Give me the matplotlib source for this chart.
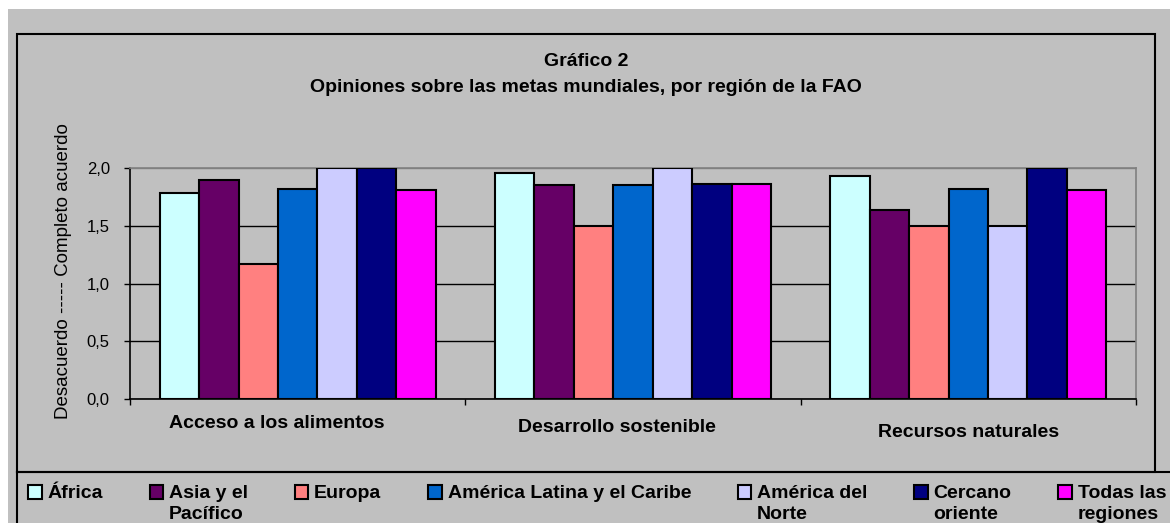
import matplotlib
matplotlib.use('Agg')
import matplotlib.pyplot as plt
import numpy as np
from matplotlib.patches import Rectangle
from matplotlib.lines import Line2D
from matplotlib.legend_handler import HandlerPatch
from matplotlib.ticker import FuncFormatter
import matplotlib.transforms as mtransforms

plt.rcParams['font.family'] = ['Liberation Sans', 'DejaVu Sans']

# datos
categorias = ['Acceso a los alimentos', 'Desarrollo sostenible', 'Recursos naturales']
regiones = ['África\n', 'Asia y el\nPacífico', 'Europa\n', 'América Latina y el Caribe\n',
            'América del\nNorte', 'Cercano\noriente', 'Todas las\nregiones']
africa = [1.78, 1.96, 1.93]
asia = [1.90, 1.85, 1.64]
europa = [1.17, 1.50, 1.50]
america_latina = [1.82, 1.85, 1.82]
america_norte = [2.00, 2.00, 1.50]
cercano_oriente = [2.00, 1.86, 2.00]
todas = [1.81, 1.86, 1.81]
colores = ['#CCFFFF', '#660066', '#FF8080', '#0066CC', '#CCCCFF', '#000080', '#FF00FF']

W, H = 1170, 523
fx = lambda x: x / W
fy = lambda y: 1 - y / H

fig = plt.figure(figsize=(W / 100, H / 100), dpi=100)
fig.patch.set_facecolor('white')
gris = '#C0C0C0'
fig.add_artist(Rectangle((fx(8), 0), 1 - fx(8), fy(9), transform=fig.transFigure,
                         facecolor=gris, edgecolor='none', zorder=-10))
# marco del grafico
fig.add_artist(Rectangle((fx(17), fy(472)), fx(1155) - fx(17), fy(34) - fy(472),
                         transform=fig.transFigure, fill=False, edgecolor='black', lw=1.5))
# marco de la leyenda
fig.add_artist(Line2D([fx(17), 1], [fy(472), fy(472)], transform=fig.transFigure, color='black', lw=1.5))
fig.add_artist(Line2D([fx(17), fx(17)], [fy(472), 0], transform=fig.transFigure, color='black', lw=1.5))

ax = fig.add_axes([fx(130), fy(399), fx(1136) - fx(130), fy(168) - fy(399)])
ax.set_facecolor('none')

series = [africa, asia, europa, america_latina, america_norte, cercano_oriente, todas]
x = np.arange(len(categorias))
w = 0.1175
barras = []
for i, vals in enumerate(series):
    b = ax.bar(x + (i - 3) * w, vals, w, color=colores[i], edgecolor='black', linewidth=1.5,
               label=regiones[i], zorder=3)
    barras.append(b)

ax.set_xlim(-0.5, 2.5)
ax.set_ylim(0, 2.0)
ax.set_yticks([0, 0.5, 1.0, 1.5, 2.0])
ax.yaxis.set_major_formatter(FuncFormatter(lambda v, p: f'{v:.1f}'.replace('.', ',')))
ax.tick_params(axis='y', direction='out', length=4.5, width=1, pad=10, labelsize=12)
ax.yaxis.grid(True, color='black', lw=1)
ax.get_ygridlines()[-1].set_color('#808080')
ax.set_axisbelow(True)

ax.set_xticks(x)
ax.set_xticklabels(categorias, fontweight='bold', fontsize=14)
ax.set_xticks([-0.5, 0.5, 1.5, 2.5], minor=True)
ax.tick_params(axis='x', which='major', length=0, pad=11.5)
ax.tick_params(axis='x', which='minor', direction='out', length=4.5, width=1)
# desplazamiento de las etiquetas como en el original
dx = [-21, -16, 0]
dy = [0, 4, 9]
for k, lab in enumerate(ax.get_xticklabels()):
    off = mtransforms.ScaledTranslation(dx[k] / 100, -dy[k] / 100, fig.dpi_scale_trans)
    lab.set_transform(lab.get_transform() + off)

for s in ['left', 'bottom']:
    ax.spines[s].set_color('black')
    ax.spines[s].set_linewidth(1.2)
for s in ['top', 'right']:
    ax.spines[s].set_color('#808080')
    ax.spines[s].set_linewidth(1.2)

ax.set_ylabel('Desacuerdo ----- Completo acuerdo', fontsize=13.5)
ax.yaxis.set_label_coords(-0.058, 0.555)

fig.text(fx(586), fy(61), 'Gráfico 2', ha='center', va='center', fontweight='bold', fontsize=14)
fig.text(fx(586), fy(87), 'Opiniones sobre las metas mundiales, por región de la FAO',
         ha='center', va='center', fontweight='bold', fontsize=14)


class CuadroArriba(HandlerPatch):
    def __init__(self, sube):
        super().__init__()
        self.sube = sube

    def create_artists(self, legend, orig_handle, xdescent, ydescent, width, height, fontsize, trans):
        p = Rectangle((-xdescent, -ydescent + self.sube * fontsize), width, height,
                      facecolor=orig_handle[0].get_facecolor(), edgecolor='black', lw=1.5,
                      transform=trans)
        return [p]


hmap = {b: CuadroArriba(0.62) for b in barras}
leg = fig.legend(handles=barras, labels=regiones, loc='upper left', bbox_to_anchor=(fx(28), fy(485)),
                 ncol=7, frameon=False, handlelength=0.7, handleheight=0.7, handletextpad=0.3,
                 columnspacing=2.4, borderpad=0, borderaxespad=0, handler_map=hmap,
                 prop={'weight': 'bold', 'size': 14})
for t in leg.get_texts():
    t.set_linespacing(1.34)

fig.savefig('out.png', dpi=100, facecolor=fig.get_facecolor())
